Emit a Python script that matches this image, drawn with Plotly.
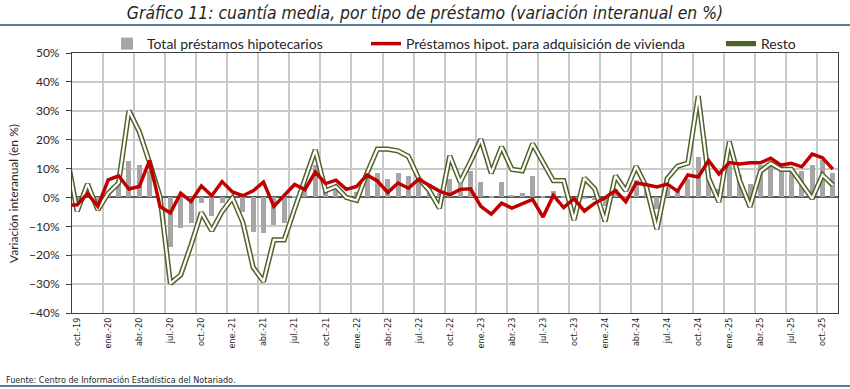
import plotly.graph_objects as go

# Category index 0 = sep-19 (only used so the lines enter from the left edge), 1 = oct-19 ... 74 = nov-25
tick_labels = ["oct.-19", "ene.-20", "abr.-20", "jul.-20", "oct.-20", "ene.-21", "abr.-21", "jul.-21",
               "oct.-21", "ene.-22", "abr.-22", "jul.-22", "oct.-22", "ene.-23", "abr.-23", "jul.-23",
               "oct.-23", "ene.-24", "abr.-24", "jul.-24", "oct.-24", "ene.-25", "abr.-25", "jul.-25",
               "oct.-25"]

total = [None,
         -3.2, 2.0, -3.5, 2.0, 6.0, 12.7, 11.3, 9.3, -1.0, -17.3, -10.7, -8.8,
         -2.0, -6.4, -1.8, -0.8, -5.2, -11.8, -12.3, -9.4, -8.7, 0.5, 2.5, 11.4,
         3.0, 2.7, 1.0, 2.0, 8.2, 8.4, 6.3, 8.6, 7.4, 6.5, 4.5, 1.5,
         6.3, 5.0, 9.2, 5.5, 0.3, 5.5, 0.7, 1.6, 7.3, 0.2, 2.4, 0.3,
         -0.8, -0.5, -0.8, -3.0, 2.9, 0.5, 6.0, 4.0, -3.9, 3.3, 2.3, 6.3,
         14.0, 6.5, 3.0, 11.3, 7.7, 4.8, 11.4, 10.5, 9.7, 9.6, 9.2, 11.3,
         12.9, 8.4]

vivienda = [-2.7,
            -2.5, 1.3, -3.1, 6.1, 7.5, 2.9, 3.8, 12.8, -3.1, -5.4, 1.5, -1.4,
            4.0, 0.6, 5.5, 1.9, 0.6, 2.3, 5.3, -3.1, 0.8, 4.5, 2.7, 8.8,
            4.8, 6.0, 2.8, 3.8, 7.8, 5.7, 1.7, 5.0, 3.2, 6.3, 4.2, 2.2,
            0.9, 2.8, 3.0, -3.1, -5.8, -2.0, -3.7, -2.1, -0.7, -6.8, 0.7, -3.5,
            -0.4, -4.7, -2.0, -0.1, 2.4, -1.5, 5.0, 4.4, 3.6, 4.6, 2.2, 7.8,
            7.1, 12.8, 8.1, 12.1, 11.6, 12.0, 12.0, 13.6, 11.2, 11.8, 10.6, 15.0,
            13.7, 9.8]

resto = [14.6,
         -4.8, 4.7, -4.3, 1.5, 5.0, 30.0, 22.8, 12.0, 0.3, -29.8, -26.8, -16.5,
         -5.2, -11.5, -4.9, -0.2, -8.6, -24.2, -29.1, -14.7, -14.7, -4.0, 6.0, 16.5,
         2.3, 3.8, 0.0, -1.0, 8.4, 16.7, 16.7, 16.1, 14.2, 6.5, 2.5, -3.7,
         14.4, 5.3, 12.4, 20.1, 8.4, 17.5, 9.7, 9.2, 18.6, 12.2, 5.8, 5.8,
         -7.8, 6.7, 3.0, -8.3, 7.5, 2.3, 10.7, 3.5, -11.0, 6.5, 10.8, 11.9,
         35.1, 6.7, -1.6, 19.3, 5.8, -3.2, 9.0, 11.8, 9.7, 9.7, 4.5, -0.4,
         7.8, 4.3]

x = list(range(len(resto)))
tick_pos = [1 + 3 * i for i in range(len(tick_labels))]
x_range = [0.5, len(resto) - 0.5]

OLIVE = "#4f6228"
RED = "#c00000"
GRAY = "#a6a6a6"
GRID = "#c9c9c9"
FRAME = "#3f3f3f"
BLUE = "#5a7c96"

# plot-area pixel frame used to place decorations
PL, PR, PT, PB = 72, 838, 53, 313
PW, PH = PR - PL, PB - PT


def px(xp):
    return (xp - PL) / PW


def py(yp):
    return (PB - yp) / PH


fig = go.Figure()
fig.add_trace(go.Bar(x=x, y=total, name="Total préstamos hipotecarios", legend="legend",
                     marker=dict(color=GRAY, line=dict(width=0)), width=0.48))
fig.add_trace(go.Scatter(x=x, y=resto, name="Resto", mode="lines", legend="legend3",
                         line=dict(color=OLIVE, width=5.2)))
fig.add_trace(go.Scatter(x=x, y=resto, mode="lines", showlegend=False, hoverinfo="skip",
                         line=dict(color="#ffffff", width=2.2)))
fig.add_trace(go.Scatter(x=x, y=vivienda, name="Préstamos hipot. para adquisición de vivienda",
                         mode="lines", line=dict(color=RED, width=3.5), legend="legend2"))

leg_common = dict(orientation="h", xanchor="left", yanchor="middle", y=py(44),
                  font=dict(size=14, color="#262626"), bgcolor="rgba(0,0,0,0)", itemwidth=30)


def rule(y_px):
    # blue separator rule across the whole page
    return dict(type="line", xref="paper", yref="paper", x0=px(0), x1=px(850),
                y0=py(y_px), y1=py(y_px), line=dict(color=BLUE, width=2))


fig.update_layout(
    width=850, height=389,
    margin=dict(l=PL, r=850 - PR, t=PT, b=389 - PB),
    paper_bgcolor="white", plot_bgcolor="white",
    font=dict(family="Lato, Liberation Sans, sans-serif", size=12, color="#262626"),
    title=dict(text="<i>Gráfico 11: cuantía media, por tipo de préstamo (variación interanual en %)</i>",
               x=0.5, xanchor="center", y=1 - 13 / 389, yanchor="middle",
               font=dict(family="DejaVu Sans Condensed, sans-serif",
                         size=17.4, color="#262626")),
    showlegend=True,
    legend=dict(x=px(107), **leg_common),
    legend2=dict(x=px(366), **leg_common),
    legend3=dict(x=px(721), **leg_common),
    bargap=0,
    xaxis=dict(range=x_range, tickmode="array", tickvals=tick_pos, ticktext=tick_labels,
               tickangle=-90, showgrid=False, ticks="", zeroline=False,
               showline=True, mirror=True, linecolor=FRAME, linewidth=1.2,
               tickfont=dict(family="DejaVu Sans Condensed, DejaVu Sans, sans-serif", size=9,
                             color="#262626"),
               minor=dict(tick0=0.5, dtick=3, showgrid=True, gridcolor=GRID, gridwidth=1.5)),
    yaxis=dict(range=[-40, 50], dtick=10, ticksuffix="%", showgrid=True, gridcolor=GRID,
               gridwidth=1.5, ticks="outside", ticklen=5, tickcolor=FRAME, ticklabelstandoff=4,
               showline=True, mirror=True, linecolor=FRAME, linewidth=1.2,
               zeroline=True, zerolinecolor="#595959", zerolinewidth=2,
               tickfont=dict(size=12, color="#262626")),
    shapes=[rule(25), rule(386)],
    annotations=[
        dict(text="Variación interanual (en %)", textangle=-90, xref="paper", yref="paper",
             x=px(13), y=py(194), xanchor="center", yanchor="middle",
             showarrow=False, font=dict(size=12, color="#262626")),
        dict(text="Fuente: Centro de Información Estadística del Notariado.", xref="paper",
             yref="paper", x=px(4), y=py(380), xanchor="left",
             yanchor="middle", showarrow=False,
             font=dict(family="DejaVu Sans Condensed, Liberation Sans, sans-serif", size=9,
                       color="#262626")),
    ],
)

fig.write_html("out.html", config={"displayModeBar": False},
               post_script="document.body.style.margin='0';document.body.style.overflow='hidden';")
